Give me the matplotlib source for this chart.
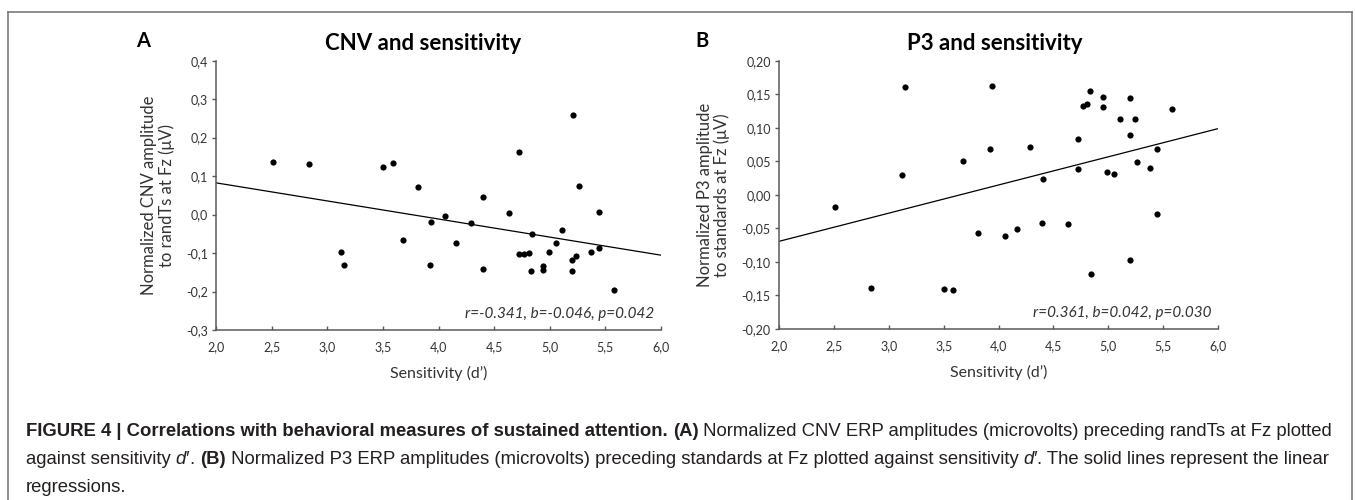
import matplotlib
matplotlib.use("Agg")
import matplotlib.pyplot as plt
import numpy as np
from matplotlib import font_manager as fm
from matplotlib.lines import Line2D

# ---------------- data ----------------
sens_A = [2.51, 2.835, 3.12, 3.15, 3.50, 3.59, 3.68, 3.815, 3.92, 3.935, 4.06, 4.16,
          4.29, 4.40, 4.40, 4.63, 4.72, 4.72, 4.77, 4.81, 4.84, 4.835, 4.94, 4.94,
          4.99, 5.06, 5.11, 5.20, 5.20, 5.24, 5.26, 5.37, 5.44, 5.44, 5.58, 5.21]
cnv_A = [0.136, 0.132, -0.097, -0.130, 0.123, 0.133, -0.067, 0.073, -0.132, -0.018,
         -0.003, -0.073, -0.021, 0.047, -0.141, 0.005, 0.163, -0.102, -0.103, -0.101,
         -0.051, -0.146, -0.133, -0.145, -0.096, -0.073, -0.040, -0.119, -0.146,
         -0.107, 0.075, -0.098, 0.006, -0.088, -0.195, 0.259]
reg_A = (0.1765, -0.047)   # intercept, slope
stats_A = "r=-0.341, b=-0.046, p=0.042"

sens_B = [2.506, 2.835, 3.125, 3.50, 3.585, 3.68, 3.81, 3.92, 4.06, 4.165, 4.29, 4.40,
          4.41, 4.63, 4.72, 4.72, 4.84, 4.99, 5.05, 5.20, 5.26, 5.376, 5.44, 5.44,
          3.149, 3.94, 4.77, 4.81, 4.835, 4.95, 4.95, 5.20, 5.11, 5.24, 5.20, 5.58]
p3_B = [-0.0178, -0.139, 0.0297, -0.140, -0.1426, 0.051, -0.057, 0.068, -0.061,
        -0.0505, 0.0713, -0.0416, 0.0233, -0.0436, 0.038, 0.084, -0.118, 0.0347,
        0.031, -0.097, 0.0485, 0.0396, 0.068, -0.029, 0.1605, 0.162, 0.1325, 0.135,
        0.1555, 0.146, 0.1315, 0.144, 0.1125, 0.113, 0.0895, 0.1275]
reg_B = (-0.1533, 0.042)
stats_B = "r=0.361, b=0.042, p=0.030"

x_ticks = [2.0, 2.5, 3.0, 3.5, 4.0, 4.5, 5.0, 5.5, 6.0]
x_ticklabels = ["2,0", "2,5", "3,0", "3,5", "4,0", "4,5", "5,0", "5,5", "6,0"]
yA_ticks = [-0.3, -0.2, -0.1, 0.0, 0.1, 0.2, 0.3, 0.4]
yA_ticklabels = ["-0,3", "-0,2", "-0,1", "0,0", "0,1", "0,2", "0,3", "0,4"]
yB_ticks = [-0.20, -0.15, -0.10, -0.05, 0.0, 0.05, 0.10, 0.15, 0.20]
yB_ticklabels = ["-0,20", "-0,15", "-0,10", "-0,05", "0,00", "0,05", "0,10", "0,15", "0,20"]

title_A = "CNV and sensitivity"
title_B = "P3 and sensitivity"
ylabel_A = "Normalized CNV amplitude\nto randTs at Fz (\u03bcV)"
ylabel_B = "Normalized P3 amplitude\nto standards at Fz (\u03bcV)"
xlabel = "Sensitivity (d\u2019)"

caption_lines = [
    [("FIGURE 4 | Correlations with behavioral measures of sustained attention. ", "bold", "normal"),
     ("(A)", "bold", "normal"),
     (" Normalized CNV ERP amplitudes (microvolts) preceding randTs at Fz plotted", "normal", "normal")],
    [("against sensitivity ", "normal", "normal"), ("d\u2032", "normal", "italic"),
     (". ", "normal", "normal"), ("(B)", "bold", "normal"),
     (" Normalized P3 ERP amplitudes (microvolts) preceding standards at Fz plotted against sensitivity ", "normal", "normal"),
     ("d\u2032", "normal", "italic"),
     (". The solid lines represent the linear", "normal", "normal")],
    [("regressions.", "normal", "normal")],
]

# ---------------- style ----------------
W, H = 1355, 500
fig = plt.figure(figsize=(W / 100, H / 100), dpi=100)
fig.patch.set_facecolor("white")

CH = ["Lato", "DejaVu Sans"]
names = {f.name for f in fm.fontManager.ttflist}
CAP = ["Liberation Sans Narrow", "Liberation Sans", "DejaVu Sans"] if "Liberation Sans Narrow" in names else ["Liberation Sans", "DejaVu Sans"]

spine_col = "#5a5a5a"
text_col = "#333333"


def px(x, y):
    return x / W, 1 - y / H


def make_panel(rect, sx, sy, reg, yticks, yticklabels, ylabel, stats, ylim):
    ax = fig.add_axes(rect)
    ax.scatter(sx, sy, s=20, color="black", zorder=3, linewidths=0)
    xs = np.array([x_ticks[0], x_ticks[-1]])
    ax.plot(xs, reg[0] + reg[1] * xs, color="black", lw=0.9, zorder=2)
    ax.set_xlim(x_ticks[0], x_ticks[-1])
    ax.set_ylim(*ylim)
    ax.set_xticks(x_ticks)
    ax.set_xticklabels(x_ticklabels, family=CH, fontsize=9, color=text_col)
    ax.set_yticks(yticks)
    ax.set_yticklabels(yticklabels, family=CH, fontsize=9, color=text_col)
    for s in ("top", "right"):
        ax.spines[s].set_visible(False)
    for s in ("left", "bottom"):
        ax.spines[s].set_color(spine_col)
        ax.spines[s].set_linewidth(1.1)
    ax.tick_params(axis="x", direction="in", length=3, width=1, color=spine_col, pad=8)
    ax.tick_params(axis="y", direction="out", length=3, width=1, color=spine_col, pad=3)
    ax.set_ylabel(ylabel, family=CH, fontsize=12, color=text_col, labelpad=8, linespacing=1.05)
    ax.set_xlabel(xlabel, family=CH, fontsize=11.5, color=text_col, labelpad=9)
    ax.text(0.985, 0.035, stats, transform=ax.transAxes, ha="right", va="bottom",
            family=CH, style="italic", fontsize=11, color=text_col)
    ax.patch.set_alpha(0)
    return ax


axA = make_panel([216 / W, 1 - 330 / H, 445 / W, (330 - 60.7) / H], sens_A, cnv_A, reg_A,
                 yA_ticks, yA_ticklabels, ylabel_A, stats_A, (-0.3, 0.4))
axB = make_panel([779 / W, 1 - 329 / H, 439 / W, (329 - 60.7) / H], sens_B, p3_B, reg_B,
                 yB_ticks, yB_ticklabels, ylabel_B, stats_B, (-0.2, 0.2))

# titles and panel letters
fig.text(*px(423, 44), title_A, ha="center", va="center", family=CH, weight="bold",
         fontsize=16, color="black")
fig.text(*px(995, 44), title_B, ha="center", va="center", family=CH, weight="bold",
         fontsize=16, color="black")
fig.text(*px(143, 41), "A", ha="center", va="center", family=CH, weight="bold",
         fontsize=14.5, color="black")
fig.text(*px(702, 41), "B", ha="center", va="center", family=CH, weight="bold",
         fontsize=14.5, color="black")

# outer frame (open at bottom)
frame_col = "#7a7a7a"
fig.add_artist(Line2D([8 / W, 8 / W], [0, 1 - 12 / H], transform=fig.transFigure, color=frame_col, lw=1.2))
fig.add_artist(Line2D([8 / W, 1352 / W], [1 - 12 / H, 1 - 12 / H], transform=fig.transFigure, color=frame_col, lw=1.2))
fig.add_artist(Line2D([1352 / W, 1352 / W], [0, 1 - 12 / H], transform=fig.transFigure, color=frame_col, lw=1.2))

# caption, fitted so that the first line spans the target width
renderer = fig.canvas.get_renderer()
cap_x0, cap_x1 = 26, 1336
cap_ys = [432, 460, 487]


def draw_line(segs, x0, y, size, draw=True):
    x = x0
    for txt, wt, st in segs:
        t = fig.text(x / W, 1 - y / H, txt, ha="left", va="center", family=CAP,
                     weight=wt, style=st, fontsize=size, color="#231f20")
        bb = t.get_window_extent(renderer)
        x += bb.width
        if not draw:
            t.remove()
    return x


size = 12.0
w = draw_line(caption_lines[0], cap_x0, cap_ys[0], size, draw=False) - cap_x0
size = size * (cap_x1 - cap_x0) / w
for segs, y in zip(caption_lines, cap_ys):
    draw_line(segs, cap_x0, y, size)

fig.savefig("out.png", dpi=100, facecolor="white")
